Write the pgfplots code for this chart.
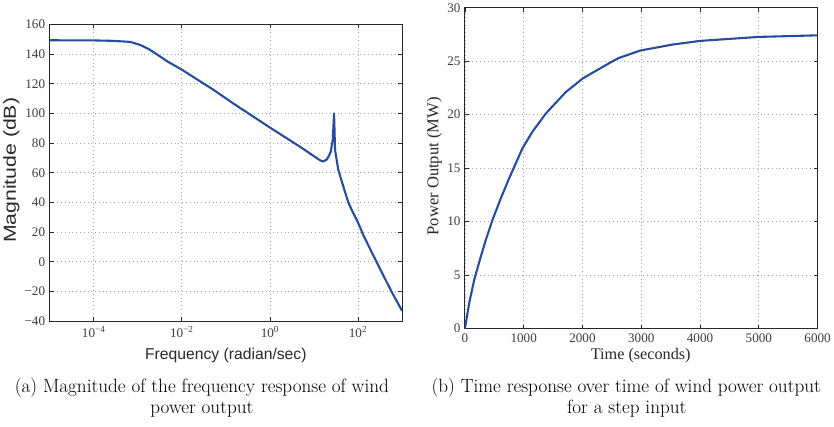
\documentclass[border=0pt]{standalone}
\usepackage{pgfplots}
\pgfplotsset{compat=1.18}
\usepackage{fontspec}
\newfontfamily\timesf{Liberation Serif}
\newfontfamily\helvf{Liberation Sans}
\definecolor{mblue}{RGB}{38,76,160}
\definecolor{axgray}{RGB}{40,40,40}
\definecolor{tkgray}{RGB}{60,60,60}

\pgfplotstableread{
f db
1e-5 149.3
1e-4 149.2
2.82e-4 148.9
6.76e-4 148.2
1.15e-3 146.1
1.8e-3 143.3
2.75e-3 139.7
4.57e-3 135.3
1e-2 129.5
5.25e-2 115.9
0.148 106.7
0.603 94.8
1 90.5
4.79 77.6
10 71.2
13.77 68.4
16.2 67.6
19.5 69
22.0 71.5
24.0 74.2
26.7 82
28.6 100
30.1 75.3
35.7 62
46.5 50.7
60.3 40
71.9 35
101.6 26
120 21
131.8 18
263 0
575 -20
1000 -33
}\magtable

\pgfplotstableread{
t p
0 0
73 2.39
158 4.56
271 6.74
356 8.3
469 10.16
611 12.18
752 14.05
866 15.45
978 16.85
1148 18.4
1375 20.1
1714 22.1
2008 23.4
2449 24.8
2618 25.3
2986 26.0
3524 26.55
4004 26.9
4994 27.27
6000 27.42
}\timetable

\pgfplotsset{
  mstyle/.style={
    scale only axis,
    axis line style={axgray, line width=1.1bp},
    tick style={axgray, line width=0.8bp},
    tick align=inside,
    major tick length=4bp,
    xtick pos=both, ytick pos=both,
    grid=major,
    major grid style={gray!70, line width=0.7bp, dash pattern=on 0.8bp off 3bp},
    ticklabel style={font=\timesf\fontsize{13.2}{14}\selectfont, text=tkgray},
    /pgf/number format/assume math mode=true,
    xticklabel style={yshift=-2bp},
    yticklabel style={xshift=-1bp},
    minor tick num=0,
    clip=true,
  }
}

\begin{document}
\begin{tikzpicture}
\path (0,0) rectangle (834bp,-424bp);
\begin{axis}[mstyle,
  at={(49.3bp,-318.3bp)}, anchor=south west,
  width=353.4bp, height=297.6bp,
  xmode=log, xmin=1e-5, xmax=1e3, ymin=-40, ymax=160,
  xtick={1e-4,1e-2,1,100},
  xticklabels={10\textsuperscript{−4},10\textsuperscript{−2},10\textsuperscript{0},10\textsuperscript{2}},
  ytick={-40,-20,0,20,40,60,80,100,120,140,160},
  yticklabels={−40,−20,0,20,40,60,80,100,120,140,160},
  xminorticks=false, 
]
\addplot[mblue, line width=2.1bp, line join=round] table[x=f,y=db] {\magtable};
\end{axis}

\begin{axis}[mstyle,
  at={(465.7bp,-325.7bp)}, anchor=south west,
  width=353.6bp, height=321.7bp,
  xmin=0, xmax=6000, ymin=0, ymax=30,
  xtick={0,1000,2000,3000,4000,5000,6000},
  ytick={0,5,10,15,20,25,30},
  yticklabels={0,5,10,15,20,25,30},
  xticklabels={0,1000,2000,3000,4000,5000,6000},
]
\addplot[mblue, line width=2.1bp, line join=round] table[x=t,y=p] {\timetable};
\end{axis}

\node[anchor=base, font=\helvf\fontsize{15.8}{18}\selectfont, text=axgray] at (226bp,-357bp) {Frequency (radian/sec)};
\node[rotate=90, font=\helvf\fontsize{17.5}{20}\selectfont, text=axgray] at (11bp,-167bp) {\scalebox{1.22}[1]{Magnitude (dB)}};
\node[anchor=base, font=\timesf\fontsize{16.3}{18}\selectfont, text=axgray] at (642bp,-356.7bp) {Time (seconds)};
\node[rotate=90, font=\timesf\fontsize{16.7}{18}\selectfont, text=axgray] at (435bp,-163bp) {Power Output (MW)};

\node[anchor=base, font=\fontsize{19.3}{22}\selectfont] at (202bp,-390bp) {(a) Magnitude of the frequency response of wind};
\node[anchor=base, font=\fontsize{19.3}{22}\selectfont] at (202bp,-411bp) {power output};
\node[anchor=base, font=\fontsize{19.3}{22}\selectfont] at (627.5bp,-390bp) {(b) Time response over time of wind power output};
\node[anchor=base, font=\fontsize{19.3}{22}\selectfont] at (628bp,-411bp) {for a step input};
\end{tikzpicture}
\end{document}
